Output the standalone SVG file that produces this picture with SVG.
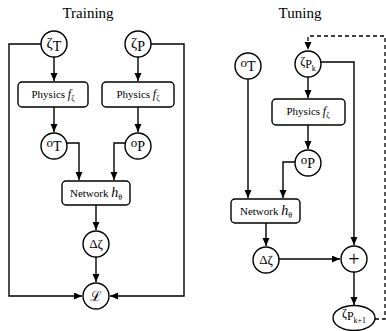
<svg xmlns="http://www.w3.org/2000/svg" width="386" height="331" viewBox="0 0 386 331">
<defs>
<marker id="ah" markerUnits="userSpaceOnUse" markerWidth="9" markerHeight="8" refX="8" refY="3.5" orient="auto">
<path d="M0,0 L8,3.5 L0,7 z" fill="#000"/>
</marker>
<style>
.n{fill:#fff;stroke:#000;stroke-width:1.4}
.c{fill:none;stroke:#000;stroke-width:1.4}
.d{fill:none;stroke:#000;stroke-width:1.3;stroke-dasharray:4,3}
text{font-family:"Liberation Serif","DejaVu Serif",serif;fill:#000}
.t{font-size:15px}
.b{font-size:11px}
.i{font-style:italic}
</style>
</defs>
<rect width="386" height="331" fill="#fff"/>
<text class="t" x="88" y="18" text-anchor="middle">Training</text>
<text class="t" x="300" y="18" text-anchor="middle">Tuning</text>

<g id="connectors">
<path class="c" d="M54,57 V81" marker-end="url(#ah)"/>
<path class="c" d="M138,57 V81" marker-end="url(#ah)"/>
<path class="c" d="M54,107 V132" marker-end="url(#ah)"/>
<path class="c" d="M138,107 V132" marker-end="url(#ah)"/>
<path class="c" d="M67,143 H79 V180" marker-end="url(#ah)"/>
<path class="c" d="M125,143 H114 V180" marker-end="url(#ah)"/>
<path class="c" d="M96,205 V230" marker-end="url(#ah)"/>
<path class="c" d="M96,257 V282" marker-end="url(#ah)"/>
<path class="c" d="M41,44 H9 V296 H82" marker-end="url(#ah)"/>
<path class="c" d="M151,44 H184 V296 H110" marker-end="url(#ah)"/>
<path class="c" d="M308,77 V98" marker-end="url(#ah)"/>
<path class="c" d="M308,125 V149" marker-end="url(#ah)"/>
<path class="c" d="M248,79 V198" marker-end="url(#ah)"/>
<path class="c" d="M296,162 H283 V198" marker-end="url(#ah)"/>
<path class="c" d="M266,223 V246" marker-end="url(#ah)"/>
<path class="c" d="M279,259 H340" marker-end="url(#ah)"/>
<path class="c" d="M321,62 H354 V245" marker-end="url(#ah)"/>
<path class="c" d="M354,272 V305" marker-end="url(#ah)"/>
<path class="d" d="M375,319 H385 V36 H308 V50" marker-end="url(#ah)"/>
</g>

<g id="zetaT"><circle class="n" cx="54" cy="44" r="13"/>
<text x="54" y="48" text-anchor="middle"><tspan font-size="15">ζ</tspan><tspan font-size="14" dy="3">T</tspan></text></g>
<g id="zetaP"><circle class="n" cx="138" cy="44" r="13"/>
<text x="138" y="48" text-anchor="middle"><tspan font-size="15">ζ</tspan><tspan font-size="14" dy="3">P</tspan></text></g>
<g id="physicsT"><rect class="n" x="18" y="82" width="70" height="25" rx="4"/>
<text class="b" x="53" y="98" text-anchor="middle">Physics <tspan class="i" font-size="12">f</tspan><tspan font-size="8" dy="3">ζ</tspan></text></g>
<g id="physicsP"><rect class="n" x="102" y="82" width="72" height="25" rx="4"/>
<text class="b" x="138" y="98" text-anchor="middle">Physics <tspan class="i" font-size="12">f</tspan><tspan font-size="8" dy="3">ζ</tspan></text></g>
<g id="oT"><circle class="n" cx="54" cy="146" r="13"/>
<text x="54" y="147" text-anchor="middle"><tspan font-size="13">o</tspan><tspan font-size="14" dy="4">T</tspan></text></g>
<g id="oP"><circle class="n" cx="138" cy="146" r="13"/>
<text x="138" y="147" text-anchor="middle"><tspan font-size="13">o</tspan><tspan font-size="14" dy="4">P</tspan></text></g>
<g id="network"><rect class="n" x="62" y="181" width="68" height="24" rx="4"/>
<text class="b" x="96" y="197" text-anchor="middle">Network <tspan class="i" font-size="14">h</tspan><tspan font-size="8" dy="3">θ</tspan></text></g>
<g id="dzeta"><circle class="n" cx="96" cy="244" r="13"/>
<text x="96" y="248" text-anchor="middle" font-size="13">Δζ</text></g>
<g id="loss"><circle class="n" cx="96" cy="296" r="13"/>
<text x="96" y="301" text-anchor="middle" font-size="14" font-family="DejaVu Serif, serif">ℒ</text></g>

<g id="oT2"><circle class="n" cx="248" cy="66" r="13"/>
<text x="248" y="67" text-anchor="middle"><tspan font-size="13">o</tspan><tspan font-size="14" dy="4">T</tspan></text></g>
<g id="zetaPk"><circle class="n" cx="308" cy="64" r="13"/>
<text x="308" y="65" text-anchor="middle"><tspan font-size="12">ζ</tspan><tspan font-size="12" dy="3">P</tspan><tspan font-size="8" dy="3">k</tspan></text></g>
<g id="physics2"><rect class="n" x="272" y="99" width="73" height="26" rx="4"/>
<text class="b" x="308" y="115" text-anchor="middle">Physics <tspan class="i" font-size="12">f</tspan><tspan font-size="8" dy="3">ζ</tspan></text></g>
<g id="oP2"><circle class="n" cx="308" cy="163" r="13"/>
<text x="308" y="164" text-anchor="middle"><tspan font-size="13">o</tspan><tspan font-size="14" dy="4">P</tspan></text></g>
<g id="network2"><rect class="n" x="231" y="199" width="69" height="24" rx="4"/>
<text class="b" x="266" y="215" text-anchor="middle">Network <tspan class="i" font-size="14">h</tspan><tspan font-size="8" dy="3">θ</tspan></text></g>
<g id="dzeta2"><circle class="n" cx="266" cy="260" r="13"/>
<text x="266" y="264" text-anchor="middle" font-size="13">Δζ</text></g>
<g id="plus"><circle class="n" cx="354" cy="259" r="13"/>
<text x="354" y="266" text-anchor="middle" font-size="20">+</text></g>
<g id="zetaPk1"><ellipse class="n" cx="354" cy="318" rx="21" ry="12.5"/>
<text x="354" y="317" text-anchor="middle"><tspan font-size="12">ζ</tspan><tspan font-size="12" dy="3">P</tspan><tspan font-size="8" dy="3">k+1</tspan></text></g>
</svg>
